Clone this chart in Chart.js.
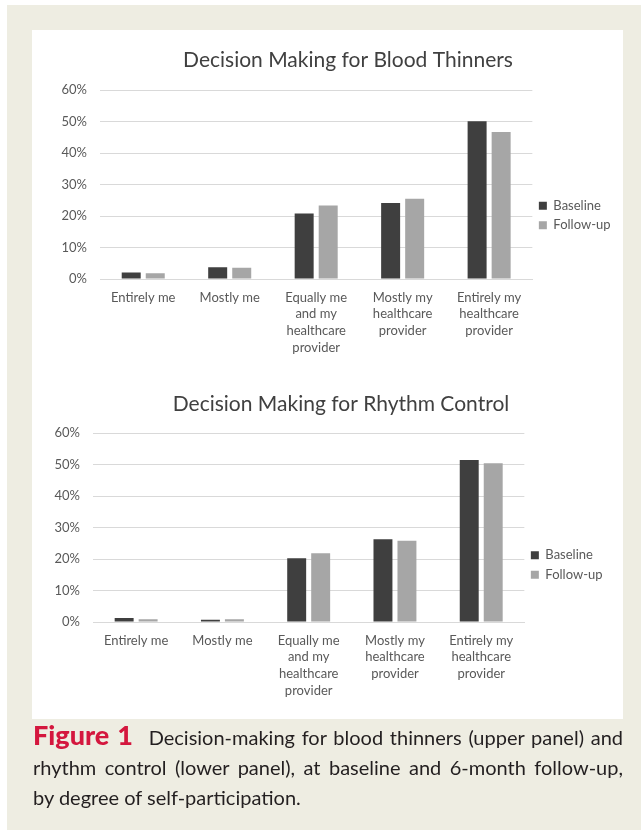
<!DOCTYPE html>
<html>
<head>
<meta charset="utf-8">
<script src="https://cdn.jsdelivr.net/npm/chart.js@4.4.1/dist/chart.umd.min.js"></script>
<style>
  html, body { margin: 0; padding: 0; background: #ffffff; overflow: hidden; }
  body { width: 641px; height: 830px; position: relative; }
  #beige { position: absolute; left: 7px; top: 5px; width: 634px; height: 825px; background: #eeede2; }
  #panel { position: absolute; left: 32px; top: 30px; width: 591px; height: 689px; background: #ffffff; }
  canvas { position: absolute; left: 32px; }
  #c1 { top: 40px; }
  #c2 { top: 385px; }
  #caption { position: absolute; left: 33px; top: 722px; width: 590px; font-family: Lato, sans-serif;
             font-size: 20px; line-height: 30px; color: #231f20; z-index: 5; }
  #caption .j { display: block; height: 30px; text-align: justify; text-align-last: justify; white-space: nowrap; }
  #caption .l { display: block; height: 30px; text-align: left; }
  #caption b { color: #d4173e; font-weight: 900; font-size: 27px; line-height: 20px; margin-right: 9px; }
</style>
</head>
<body>
<div id="beige"></div>
<div id="panel"></div>
<canvas id="c1" width="600" height="351"></canvas>
<canvas id="c2" width="600" height="360"></canvas>
<div id="caption"><span class="j"><b>Figure 1</b> Decision-making for blood thinners (upper panel) and</span><span class="j">rhythm control (lower panel), at baseline and 6-month follow-up,</span><span class="l">by degree of self-participation.</span></div>
<script>
const categories = [
  ["Entirely me"],
  ["Mostly me"],
  ["Equally me", "and my", "healthcare", "provider"],
  ["Mostly my", "healthcare", "provider"],
  ["Entirely my", "healthcare", "provider"]
];
const seriesNames = ["Baseline", "Follow-up"];
const bloodBaseline = [2.1, 3.7, 20.8, 24.1, 50.1];
const bloodFollowUp = [1.8, 3.6, 23.3, 25.5, 46.7];
const rhythmBaseline = [1.3, 0.7, 20.2, 26.3, 51.4];
const rhythmFollowUp = [0.9, 0.9, 21.8, 25.8, 50.4];
const yTicks = [0, 10, 20, 30, 40, 50, 60];
const titles = ["Decision Making for Blood Thinners", "Decision Making for Rhythm Control"];

const FONT = "Lato, 'Open Sans', sans-serif";
const TICK_COLOR = "#595959";
const GRID_COLOR = "#d9d9d9";
const COLORS = ["#3f3f3f", "#a6a6a6"];

// Re-centre the chart title on a given x (canvas pixels).
const titleShift = {
  id: "titleShift",
  afterLayout(chart, args, opts) {
    const t = chart.titleBlock;
    if (!t || opts.center == null) return;
    const dx = opts.center - (t.left + t.right) / 2;
    t.left += dx; t.right += dx;
  }
};

function makeChart(id, title, baseline, followUp, geo) {
  return new Chart(document.getElementById(id), {
    type: "bar",
    plugins: [titleShift],
    data: {
      labels: categories,
      datasets: [
        { label: seriesNames[0], data: baseline, backgroundColor: COLORS[0], borderWidth: 0,
          categoryPercentage: 0.556, barPercentage: 0.79 },
        { label: seriesNames[1], data: followUp, backgroundColor: COLORS[1], borderWidth: 0,
          categoryPercentage: 0.556, barPercentage: 0.79 }
      ]
    },
    options: {
      responsive: false,
      animation: false,
      devicePixelRatio: 1,
      layout: { padding: { left: geo.padL, right: geo.padR, top: 0, bottom: 0 } },
      plugins: {
        titleShift: { center: geo.titleCenter },
        title: {
          display: true, text: title, color: "#404040",
          font: { family: FONT, size: 21, weight: "normal", lineHeight: 1.2 },
          padding: { top: geo.titleTop, bottom: geo.titleBottom }
        },
        legend: {
          position: "right",
          labels: {
            boxWidth: 8, boxHeight: 8, padding: 6.5, color: TICK_COLOR,
            font: { family: FONT, size: 13 }
          }
        },
        tooltip: { enabled: false }
      },
      scales: {
        x: {
          grid: { display: false, drawTicks: false },
          border: { display: true, color: GRID_COLOR, width: 1 },
          ticks: { color: TICK_COLOR, padding: 10, maxRotation: 0, autoSkip: false,
                   font: { family: FONT, size: 13, lineHeight: 1.29 } },
          afterFit: s => { s.height = geo.xHeight; }
        },
        y: {
          min: 0, max: 60,
          afterBuildTicks: s => { s.ticks = yTicks.map(v => ({ value: v })); },
          grid: { color: GRID_COLOR, lineWidth: 1, drawTicks: false },
          border: { display: false },
          ticks: { color: TICK_COLOR, padding: 13, callback: v => v + "%",
                   font: { family: FONT, size: 13 } },
          afterFit: s => { s.width = geo.yWidth; }
        }
      }
    }
  });
}

makeChart("c1", titles[0], bloodBaseline, bloodFollowUp,
  { padL: 24, padR: 11.5, titleTop: 7.4, titleBottom: 17.4, xHeight: 112, yWidth: 44, titleCenter: 316 });
makeChart("c2", titles[1], rhythmBaseline, rhythmFollowUp,
  { padL: 16, padR: 19.5, titleTop: 6.4, titleBottom: 16.4, xHeight: 123, yWidth: 45, titleCenter: 309 });
</script>
</body>
</html>
